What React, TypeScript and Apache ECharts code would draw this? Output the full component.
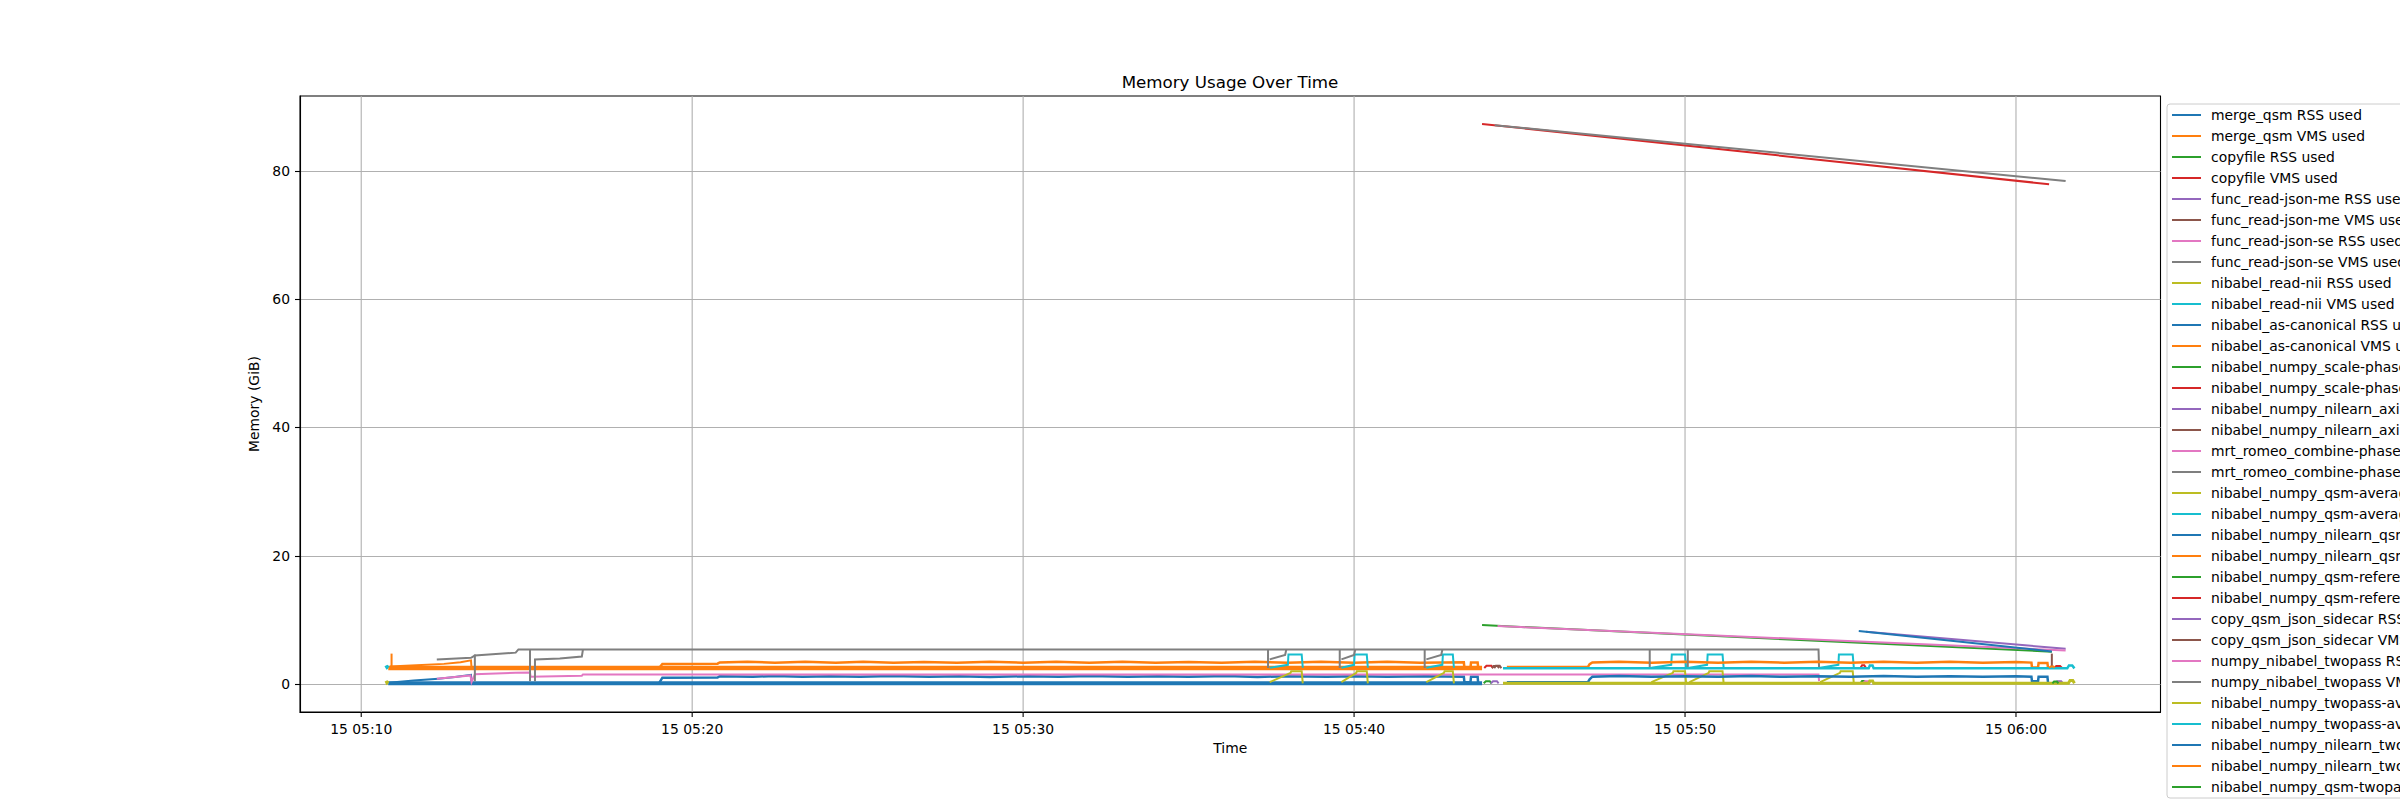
import React, { useEffect, useRef } from "react";
import * as echarts from "echarts";

// ---------- axis / tick data ----------
const X_MIN = "05:08:09";
const X_MAX = "06:04:22";
const X_TICKS = ["05:10:00", "05:20:00", "05:30:00", "05:40:00", "05:50:00", "06:00:00"];
const Y_MIN = -4.35;
const Y_MAX = 91.65;
const Y_TICKS = [0, 20, 40, 60, 80];

const TITLE = "Memory Usage Over Time";
const X_NAME = "Time";
const Y_NAME = "Memory (GiB)";

const SERIES_NAMES = [
  "merge_qsm RSS used",
  "merge_qsm VMS used",
  "copyfile RSS used",
  "copyfile VMS used",
  "func_read-json-me RSS used",
  "func_read-json-me VMS used",
  "func_read-json-se RSS used",
  "func_read-json-se VMS used",
  "nibabel_read-nii RSS used",
  "nibabel_read-nii VMS used",
  "nibabel_as-canonical RSS used",
  "nibabel_as-canonical VMS used",
  "nibabel_numpy_scale-phase RSS used",
  "nibabel_numpy_scale-phase VMS used",
  "nibabel_numpy_nilearn_axial-resample RSS used",
  "nibabel_numpy_nilearn_axial-resample VMS used",
  "mrt_romeo_combine-phase RSS used",
  "mrt_romeo_combine-phase VMS used",
  "nibabel_numpy_qsm-average RSS used",
  "nibabel_numpy_qsm-average VMS used",
  "nibabel_numpy_nilearn_qsm-resample RSS used",
  "nibabel_numpy_nilearn_qsm-resample VMS used",
  "nibabel_numpy_qsm-referencing RSS used",
  "nibabel_numpy_qsm-referencing VMS used",
  "copy_qsm_json_sidecar RSS used",
  "copy_qsm_json_sidecar VMS used",
  "numpy_nibabel_twopass RSS used",
  "numpy_nibabel_twopass VMS used",
  "nibabel_numpy_twopass-average RSS used",
  "nibabel_numpy_twopass-average VMS used",
  "nibabel_numpy_nilearn_twopass-resample RSS used",
  "nibabel_numpy_nilearn_twopass-resample VMS used",
  "nibabel_numpy_qsm-twopass-referencing RSS used",
];

const COLORS = [
  "#1f77b4", "#ff7f0e", "#2ca02c", "#d62728", "#9467bd",
  "#8c564b", "#e377c2", "#7f7f7f", "#bcbd22", "#17becf",
];

type Pt = [string, number | null];

// ---------- series values (time, GiB) ----------
const mergeQsmRssRamp: Pt[] = [["05:10:50", 0.2], ["05:11:35", 0.55], ["05:12:20", 0.85], ["05:12:50", 1.1], ["05:13:19", 1.45], ["05:13:20", 0.15]];
const mergeQsmRssBand: Pt[] = [["05:10:49", 0.12], ["05:43:52", 0.12]];
const mergeQsmVmsBand: Pt[] = [["05:10:49", 2.5], ["05:43:52", 2.5]];
const mergeQsmVmsSpike: Pt[] = [["05:10:55", 2.5], ["05:10:55", 4.75]];
const mergeQsmVmsRamp: Pt[] = [["05:10:52", 2.75], ["05:11:40", 2.95], ["05:12:30", 3.15], ["05:13:00", 3.4], ["05:13:19", 3.7], ["05:13:20", 2.5]];
const copyfileRss: Pt[] = [["05:43:52", 9.19], ["06:01:05", 5.05]];
const copyfileVms: Pt[] = [["05:43:52", 87.3], ["06:01:00", 77.9]];
const readJsonMeRss: Pt[] = [["05:55:28", 8.15], ["06:01:30", 5.5]];
const readJsonMeVms: Pt[] = [["05:44:14", 2.5], ["05:44:17", 2.85], ["05:44:24", 2.85], ["05:44:27", 2.5]];
const readJsonSeRss: Pt[] = [["05:44:20", 9.05], ["06:01:30", 5.25]];
const readJsonSeVms: Pt[] = [["05:44:15", 87.1], ["06:01:30", 78.4]];
const readNiiRss: Pt[] = [["05:10:44", 0.12], ["05:10:47", 0.24], ["05:10:49", 0.12]];
const readNiiVms: Pt[] = [["05:10:44", 2.5], ["05:10:47", 2.65], ["05:10:49", 2.5]];
const asCanonicalRss: Pt[] = [
  ["05:19:00", 0.15], ["05:19:06", 1.0], ["05:20:46", 1.02], ["05:20:50", 1.22], ["05:21:50", 1.15],
  ["05:22:30", 1.26], ["05:23:20", 1.14], ["05:24:10", 1.24], ["05:25:05", 1.13], ["05:26:00", 1.25],
  ["05:27:10", 1.15], ["05:28:05", 1.23], ["05:29:00", 1.12], ["05:30:10", 1.24], ["05:31:05", 1.14],
  ["05:32:00", 1.26], ["05:33:10", 1.13], ["05:34:05", 1.23], ["05:35:00", 1.14], ["05:36:10", 1.25],
  ["05:37:05", 1.12], ["05:38:00", 1.22], ["05:39:10", 1.14], ["05:40:05", 1.24], ["05:41:00", 1.13],
  ["05:42:10", 1.22], ["05:43:19", 1.15], ["05:43:20", 0.3], ["05:43:31", 0.3], ["05:43:32", 1.15],
  ["05:43:44", 1.15], ["05:43:45", 0.15],
];
const asCanonicalVms: Pt[] = [
  ["05:19:00", 2.5], ["05:19:06", 3.15], ["05:20:46", 3.18], ["05:20:50", 3.38], ["05:21:40", 3.48],
  ["05:22:30", 3.33], ["05:23:25", 3.47], ["05:24:20", 3.34], ["05:25:10", 3.49], ["05:26:05", 3.33],
  ["05:27:00", 3.46], ["05:28:00", 3.32], ["05:29:00", 3.48], ["05:30:00", 3.34], ["05:31:00", 3.47],
  ["05:32:00", 3.33], ["05:33:00", 3.49], ["05:34:00", 3.34], ["05:35:00", 3.46], ["05:36:00", 3.33],
  ["05:37:00", 3.47], ["05:38:00", 3.34], ["05:39:00", 3.48], ["05:40:00", 3.33], ["05:41:00", 3.47],
  ["05:42:00", 3.34], ["05:43:19", 3.4], ["05:43:20", 2.55], ["05:43:31", 2.55], ["05:43:32", 3.35],
  ["05:43:44", 3.35], ["05:43:45", 2.55],
];
const scalePhaseRss: Pt[] = [["05:43:55", 0.12], ["05:43:59", 0.45], ["05:44:06", 0.45], ["05:44:09", 0.12]];
const scalePhaseVms: Pt[] = [["05:43:56", 2.5], ["05:44:00", 2.85], ["05:44:09", 2.85], ["05:44:12", 2.5]];
const axialRss: Pt[] = [["05:44:08", 0.12], ["05:44:12", 0.45], ["05:44:19", 0.45], ["05:44:22", 0.12]];
const axialVms: Pt[] = [["05:44:10", 2.5], ["05:44:13", 2.8], ["05:44:20", 2.8], ["05:44:23", 2.5]];
const romeoRss: Pt[] = [
  ["05:12:17", 0.85], ["05:12:50", 1.1], ["05:13:18", 1.35], ["05:13:20", 0.3], ["05:13:26", 1.55],
  ["05:14:40", 1.75], ["05:15:06", 1.8], ["05:15:07", 1.15], ["05:16:40", 1.3], ["05:16:42", 1.5],
  ["05:54:02", 1.5], ["05:54:03", 0.45],
];
const romeoVms: Pt[] = [
  ["05:12:17", 3.85], ["05:13:19", 4.1], ["05:13:26", 4.45], ["05:14:40", 4.9], ["05:14:45", 5.4],
  ["05:54:02", 5.4], ["05:54:03", 2.5],
];
const qsmAverageRss: Pt[] = [
  ["05:37:27", 0.3], ["05:38:05", 1.75], ["05:38:06", 2.0], ["05:38:25", 2.0], ["05:38:27", 0.12], ["05:38:28", null],
  ["05:39:37", 0.3], ["05:40:04", 1.75], ["05:40:05", 2.0], ["05:40:23", 2.0], ["05:40:25", 0.12], ["05:40:26", null],
  ["05:42:11", 0.3], ["05:42:43", 1.75], ["05:42:44", 2.0], ["05:42:59", 2.0], ["05:43:01", 0.12], ["05:43:02", null],
  ["05:48:59", 0.3], ["05:49:38", 1.75], ["05:49:39", 2.0], ["05:50:00", 2.0], ["05:50:02", 0.12], ["05:50:03", null],
  ["05:50:08", 0.3], ["05:50:43", 1.75], ["05:50:44", 2.0], ["05:51:08", 2.0], ["05:51:10", 0.12], ["05:51:11", null],
  ["05:54:05", 0.3], ["05:54:41", 1.75], ["05:54:42", 2.0], ["05:55:04", 2.0], ["05:55:06", 0.12],
];
const qsmAverageVms: Pt[] = [
  ["05:37:27", 2.55], ["05:38:00", 3.0], ["05:38:01", 4.6], ["05:38:25", 4.6], ["05:38:27", 2.55], ["05:38:28", null],
  ["05:39:37", 2.55], ["05:40:00", 3.0], ["05:40:01", 4.6], ["05:40:23", 4.6], ["05:40:25", 2.55], ["05:40:26", null],
  ["05:42:11", 2.55], ["05:42:40", 3.0], ["05:42:41", 4.6], ["05:42:59", 4.6], ["05:43:01", 2.55], ["05:43:02", null],
  ["05:48:59", 2.55], ["05:49:35", 3.0], ["05:49:36", 4.6], ["05:50:00", 4.6], ["05:50:02", 2.55], ["05:50:03", null],
  ["05:50:08", 2.55], ["05:50:40", 3.0], ["05:50:41", 4.6], ["05:51:08", 4.6], ["05:51:10", 2.55], ["05:51:11", null],
  ["05:54:05", 2.55], ["05:54:38", 3.0], ["05:54:39", 4.6], ["05:55:04", 4.6], ["05:55:06", 2.55],
];
const nilearnQsmRss: Pt[] = [
  ["05:44:37", 0.3], ["05:47:04", 0.32], ["05:47:07", 0.75], ["05:47:12", 1.15], ["05:48:00", 1.25],
  ["05:49:00", 1.13], ["05:50:00", 1.24], ["05:51:00", 1.14], ["05:52:00", 1.25], ["05:53:00", 1.13],
  ["05:54:00", 1.24], ["05:55:00", 1.14], ["05:56:00", 1.25], ["05:57:00", 1.13], ["05:58:00", 1.24],
  ["05:59:00", 1.14], ["06:00:00", 1.22], ["06:00:28", 1.15], ["06:00:29", 0.45], ["06:00:40", 0.45],
  ["06:00:41", 1.15], ["06:00:57", 1.15], ["06:00:58", 0.3],
];
const nilearnQsmVms: Pt[] = [
  ["05:44:37", 2.65], ["05:47:04", 2.68], ["05:47:07", 3.1], ["05:47:12", 3.38], ["05:48:00", 3.47],
  ["05:49:00", 3.33], ["05:50:00", 3.48], ["05:51:00", 3.34], ["05:52:00", 3.47], ["05:53:00", 3.33],
  ["05:54:00", 3.48], ["05:55:00", 3.34], ["05:56:00", 3.47], ["05:57:00", 3.33], ["05:58:00", 3.48],
  ["05:59:00", 3.34], ["06:00:00", 3.45], ["06:00:28", 3.35], ["06:00:29", 2.6], ["06:00:40", 2.6],
  ["06:00:41", 3.3], ["06:00:57", 3.3], ["06:00:58", 2.6],
];
const referencingRss: Pt[] = [["05:55:18", 0.12], ["05:55:21", 0.5], ["05:55:25", 0.5], ["05:55:28", 0.12]];
const referencingVms: Pt[] = [
  ["05:55:18", 2.5], ["05:55:21", 2.95], ["05:55:25", 2.95], ["05:55:28", 2.5], ["05:55:29", null],
  ["06:01:10", 2.55], ["06:01:13", 2.8], ["06:01:20", 2.8], ["06:01:23", 2.55],
];
const sidecarRss: Pt[] = [["06:01:12", 0.12], ["06:01:15", 0.45], ["06:01:22", 0.45], ["06:01:25", 0.12]];
const sidecarVms: Pt[] = [["06:01:05", 2.6], ["06:01:05", 4.75]];
const twopassRss: Pt[] = [["05:55:23", 0.12], ["05:55:26", 0.45], ["05:55:33", 0.45], ["05:55:36", 0.12]];
const twopassVms: Pt[] = [
  ["05:13:26", 0.45], ["05:13:26", 4.6], ["05:13:27", null],
  ["05:15:06", 0.45], ["05:15:06", 5.4], ["05:15:07", null],
  ["05:15:15", 0.45], ["05:15:15", 3.85], ["05:16:00", 4.0], ["05:16:40", 4.3], ["05:16:42", 5.4], ["05:16:43", null],
  ["05:37:24", 5.4], ["05:37:24", 2.5], ["05:37:25", null],
  ["05:37:27", 3.85], ["05:37:55", 4.55], ["05:37:57", 5.35], ["05:37:58", null],
  ["05:39:34", 5.4], ["05:39:34", 2.5], ["05:39:35", null],
  ["05:39:37", 3.85], ["05:40:00", 4.55], ["05:40:02", 5.35], ["05:40:03", null],
  ["05:42:08", 5.4], ["05:42:08", 2.5], ["05:42:09", null],
  ["05:42:11", 3.85], ["05:42:38", 4.55], ["05:42:40", 5.35], ["05:42:41", null],
  ["05:48:56", 5.4], ["05:48:56", 2.5], ["05:48:57", null],
  ["05:50:05", 5.4], ["05:50:05", 2.5],
];
const twopassAverageRss: Pt[] = [
  ["05:44:30", 0.12], ["05:55:33", 0.12], ["05:55:35", 0.5], ["05:55:40", 0.5], ["05:55:42", 0.12],
  ["06:01:35", 0.12], ["06:01:38", 0.55], ["06:01:43", 0.55], ["06:01:46", 0.12],
];
const twopassAverageVms: Pt[] = [
  ["05:44:30", 2.45], ["05:55:33", 2.45], ["05:55:35", 2.9], ["05:55:40", 2.9], ["05:55:42", 2.45],
  ["06:01:33", 2.45], ["06:01:36", 2.9], ["06:01:42", 2.9], ["06:01:46", 2.45],
];
const nilearnTwopassRss: Pt[] = [["05:55:15", 8.26], ["06:01:05", 5.09]];
const nilearnTwopassVms: Pt[] = [["06:01:00", 2.55], ["06:01:03", 2.75], ["06:01:08", 2.75], ["06:01:10", 2.55]];
const qsmTwopassRss: Pt[] = [["06:01:06", 0.12], ["06:01:09", 0.4], ["06:01:14", 0.4], ["06:01:17", 0.12]];

// trace -> legend series index, line width (drawn in this order)
const TRACES: { s: number; data: Pt[]; w: number }[] = [
  { s: 0, data: mergeQsmRssRamp, w: 2 },
  { s: 0, data: mergeQsmRssBand, w: 4 },
  { s: 1, data: mergeQsmVmsRamp, w: 2 },
  { s: 1, data: mergeQsmVmsSpike, w: 2 },
  { s: 1, data: mergeQsmVmsBand, w: 4.5 },
  { s: 2, data: copyfileRss, w: 2 },
  { s: 3, data: copyfileVms, w: 2 },
  { s: 4, data: readJsonMeRss, w: 2 },
  { s: 5, data: readJsonMeVms, w: 2 },
  { s: 6, data: readJsonSeRss, w: 2 },
  { s: 7, data: readJsonSeVms, w: 2 },
  { s: 8, data: readNiiRss, w: 4 },
  { s: 9, data: readNiiVms, w: 4 },
  { s: 10, data: asCanonicalRss, w: 2.5 },
  { s: 11, data: asCanonicalVms, w: 2.5 },
  { s: 12, data: scalePhaseRss, w: 2 },
  { s: 13, data: scalePhaseVms, w: 2 },
  { s: 14, data: axialRss, w: 2 },
  { s: 15, data: axialVms, w: 2 },
  { s: 16, data: romeoRss, w: 2 },
  { s: 17, data: romeoVms, w: 2 },
  { s: 18, data: qsmAverageRss, w: 2 },
  { s: 19, data: qsmAverageVms, w: 2 },
  { s: 20, data: nilearnQsmRss, w: 2.5 },
  { s: 21, data: nilearnQsmVms, w: 2.5 },
  { s: 22, data: referencingRss, w: 2 },
  { s: 23, data: referencingVms, w: 2 },
  { s: 24, data: sidecarRss, w: 2 },
  { s: 25, data: sidecarVms, w: 2 },
  { s: 26, data: twopassRss, w: 2 },
  { s: 27, data: twopassVms, w: 2 },
  { s: 28, data: twopassAverageRss, w: 3 },
  { s: 29, data: twopassAverageVms, w: 2.5 },
  { s: 30, data: nilearnTwopassRss, w: 2 },
  { s: 31, data: nilearnTwopassVms, w: 2 },
  { s: 32, data: qsmTwopassRss, w: 2 },
];

const toMs = (hms: string): number => {
  const [h, m, s] = hms.split(":").map(Number);
  return Date.UTC(2024, 0, 15, h, m, s);
};
const pad = (n: number) => (n < 10 ? "0" + n : "" + n);

const FONT = "DejaVu Sans";

export default function App() {
  const ref = useRef<HTMLDivElement>(null);
  useEffect(() => {
    if (!ref.current) return;
    const chart = echarts.init(ref.current, undefined, { renderer: "svg" });
    const lineSeries = TRACES.map((t) => ({
      type: "line",
      name: SERIES_NAMES[t.s],
      data: t.data.map(([time, v]) => [toMs(time), v]),
      showSymbol: false,
      symbol: "none",
      connectNulls: false,
      lineStyle: { width: t.w, color: COLORS[t.s % 10], join: "miter", cap: "butt" },
      itemStyle: { color: COLORS[t.s % 10] },
      emphasis: { disabled: true },
      silent: true,
    }));
    // vertical grid lines + tick marks every 10 minutes, placed through the time scale
    const xGrid = {
      type: "custom",
      name: "__xgrid",
      silent: true,
      clip: false,
      z: 1,
      data: X_TICKS.map((t) => [toMs(t), 0]),
      encode: { x: 0, y: 1 },
      renderItem: (_p: any, api: any) => {
        const bottom = api.coord([api.value(0), Y_MIN]);
        const top = api.coord([api.value(0), Y_MAX]);
        return {
          type: "group",
          children: [
            { type: "line", shape: { x1: bottom[0], y1: top[1], x2: bottom[0], y2: bottom[1] }, style: { stroke: "#b0b0b0", lineWidth: 1.1 } },
            { type: "line", shape: { x1: bottom[0], y1: bottom[1], x2: bottom[0], y2: bottom[1] + 5 }, style: { stroke: "#000", lineWidth: 1.1 } },
          ],
        };
      },
    };
    chart.setOption({
      animation: false,
      useUTC: true,
      backgroundColor: "#fff",
      textStyle: { fontFamily: FONT },
      title: {
        text: TITLE,
        left: 1230,
        top: 73,
        textAlign: "center",
        padding: 0,
        textStyle: { fontFamily: FONT, fontSize: 16.7, fontWeight: "normal", color: "#000", lineHeight: 18 },
      },
      legend: {
        data: SERIES_NAMES,
        orient: "vertical",
        left: 2167,
        top: 104,
        padding: [3, 8, 3, 5],
        itemGap: 5,
        itemWidth: 34,
        itemHeight: 2,
        icon: "path://M0,0H29V2H0Z M34,0L34,2",
        borderColor: "#cccccc",
        borderWidth: 1,
        borderRadius: 3,
        backgroundColor: "rgba(255,255,255,0.8)",
        selectedMode: false,
        textStyle: { fontFamily: FONT, fontSize: 13.9, color: "#000", lineHeight: 16 },
      },
      grid: {
        left: 300,
        top: 96,
        width: 1860.5,
        height: 616,
        show: true,
        borderColor: "#000",
        borderWidth: 1.1,
        backgroundColor: "transparent",
      },
      xAxis: {
        type: "time",
        min: toMs(X_MIN),
        max: toMs(X_MAX),
        name: X_NAME,
        nameLocation: "middle",
        nameGap: 27,
        nameTextStyle: { fontFamily: FONT, fontSize: 13.9, color: "#000" },
        axisLine: { show: true, onZero: false, lineStyle: { color: "#000", width: 1.1 } },
        axisTick: { show: false },
        axisLabel: {
          margin: 10,
          fontFamily: FONT,
          fontSize: 13.9,
          color: "#000",
          showMinLabel: false,
          showMaxLabel: false,
          formatter: (v: number) => {
            const d = new Date(v);
            if (d.getUTCMinutes() % 10 !== 0 || d.getUTCSeconds() !== 0) return "";
            return `${d.getUTCDate()} ${pad(d.getUTCHours())}:${pad(d.getUTCMinutes())}`;
          },
        },
        splitLine: { show: false },
      },
      yAxis: {
        type: "value",
        min: Y_MIN,
        max: Y_MAX,
        name: Y_NAME,
        nameLocation: "middle",
        nameRotate: 90,
        nameGap: 32,
        nameTextStyle: { fontFamily: FONT, fontSize: 13.9, color: "#000" },
        axisLine: { show: true, lineStyle: { color: "#000", width: 1.1 } },
        axisTick: {
          show: true,
          length: 5,
          lineStyle: { color: "#000", width: 1.1 },
          customValues: Y_TICKS,
        },
        axisLabel: {
          margin: 10,
          fontFamily: FONT,
          fontSize: 13.9,
          color: "#000",
          customValues: Y_TICKS,
        },
        splitLine: { show: true, lineStyle: { color: "#b0b0b0", width: 1.1 } },
      },
      series: [xGrid, ...lineSeries],
    });
    return () => chart.dispose();
  }, []);
  return (
    <div
      ref={ref}
      style={{
        position: "fixed",
        left: 0,
        top: 0,
        width: 2400,
        height: 800,
        overflow: "hidden",
        background: "#fff",
      }}
    />
  );
}
